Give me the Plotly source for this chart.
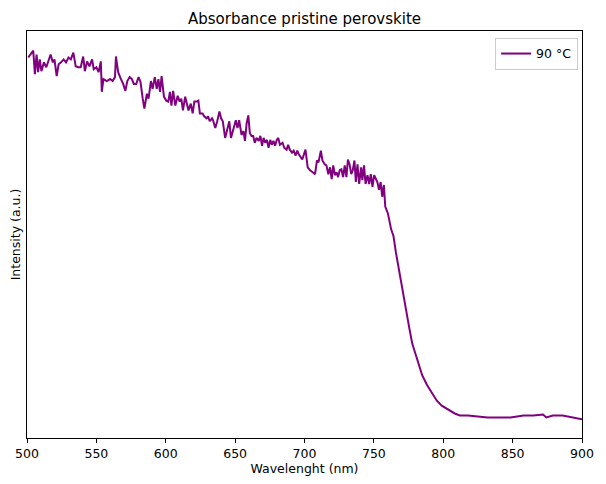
import plotly.graph_objects as go

wavelength_nm = [
    500.9, 504.5, 505.7, 506.9, 508.0, 509.2, 510.4, 512.2, 513.9, 515.1,
    517.0, 518.6, 519.8, 521.4, 522.8, 524.5, 526.4, 528.1, 529.9, 531.6,
    533.4, 535.1, 537.0, 538.7, 540.5, 541.7, 543.3, 545.0, 546.9, 548.1,
    550.0, 551.6, 553.2, 553.9, 555.1, 557.5, 559.9, 561.7, 563.4, 564.1,
    565.7, 567.4, 569.3, 570.9, 572.3, 574.0, 575.6, 577.0, 578.7, 580.4,
    581.8, 583.4, 584.6, 586.4, 587.6, 589.3, 590.5, 592.1, 593.5, 594.7,
    595.9, 597.0, 598.7, 600.4, 601.8, 603.0, 604.1, 605.3, 606.9, 608.6,
    610.0, 611.2, 612.4, 614.0, 615.2, 616.4, 618.0, 619.4, 620.6, 622.3,
    623.5, 624.6, 626.5, 627.7, 629.3, 630.5, 631.7, 633.4, 634.1, 635.7,
    637.1, 638.7, 639.9, 641.1, 642.8, 644.2, 645.8, 647.0, 648.9, 650.5,
    651.7, 652.9, 654.6, 656.0, 657.1, 658.3, 659.5, 660.6, 661.8, 663.0,
    664.2, 665.4, 667.0, 668.2, 669.4, 670.5, 671.7, 672.9, 674.1, 675.3,
    676.5, 677.6, 678.8, 680.0, 681.1, 682.3, 684.2, 685.4, 687.1, 688.2,
    689.4, 691.0, 692.2, 693.6, 694.8, 696.0, 698.4, 700.7, 702.3, 704.0,
    705.9, 707.6, 709.0, 710.1, 711.8, 712.9, 714.6, 715.8, 717.2, 718.4,
    719.6, 720.7, 721.9, 723.1, 724.2, 725.4, 726.6, 727.8, 729.0, 730.2,
    731.3, 732.5, 733.7, 734.8, 736.0, 737.0, 738.2, 739.4, 740.8, 741.7,
    742.9, 744.0, 745.4, 746.6, 747.8, 749.0, 750.2, 751.4, 752.5, 753.7,
    754.9, 756.0, 757.2, 758.2, 760.1, 762.4, 764.1, 765.9, 768.3, 770.7,
    773.0, 775.4, 777.7, 781.3, 784.8, 788.3, 791.9, 795.4, 798.9, 803.7,
    808.3, 811.9, 817.8, 824.9, 831.9, 839.0, 848.4, 853.2, 857.8, 864.9,
    871.9, 874.3, 879.0, 886.1, 893.1, 900.0,
]

intensity_au = [
    3.88, 3.95, 3.71, 3.91, 3.73, 3.86, 3.74, 3.83, 3.78, 3.84,
    3.91, 3.83, 3.86, 3.69, 3.81, 3.83, 3.86, 3.83, 3.88, 3.86,
    3.93, 3.79, 3.78, 3.78, 3.89, 3.74, 3.84, 3.79, 3.86, 3.76,
    3.78, 3.73, 3.84, 3.53, 3.66, 3.64, 3.66, 3.64, 3.68, 3.89,
    3.73, 3.67, 3.61, 3.54, 3.64, 3.68, 3.66, 3.61, 3.61, 3.68,
    3.63, 3.46, 3.36, 3.51, 3.46, 3.64, 3.56, 3.68, 3.56, 3.66,
    3.53, 3.69, 3.48, 3.44, 3.43, 3.53, 3.39, 3.54, 3.39, 3.49,
    3.43, 3.46, 3.34, 3.48, 3.39, 3.34, 3.41, 3.31, 3.43, 3.43,
    3.44, 3.31, 3.31, 3.28, 3.26, 3.28, 3.23, 3.26, 3.24, 3.16,
    3.23, 3.33, 3.26, 3.23, 3.06, 3.13, 3.23, 3.06, 3.16, 3.24,
    3.16, 3.24, 3.09, 3.13, 3.03, 3.21, 3.29, 3.11, 3.08, 3.08,
    3.01, 3.06, 3.03, 3.08, 2.98, 3.06, 3.01, 3.04, 2.96, 3.04,
    2.99, 3.03, 2.98, 3.04, 3.06, 2.99, 3.01, 2.96, 2.94, 2.99,
    2.94, 2.91, 2.93, 2.88, 2.93, 2.89, 2.84, 2.94, 2.76, 2.73,
    2.71, 2.69, 2.83, 2.81, 2.93, 2.83, 2.79, 2.78, 2.69, 2.76,
    2.64, 2.78, 2.68, 2.71, 2.66, 2.73, 2.74, 2.66, 2.78, 2.66,
    2.84, 2.79, 2.69, 2.73, 2.83, 2.61, 2.79, 2.59, 2.76, 2.63,
    2.78, 2.59, 2.68, 2.59, 2.69, 2.56, 2.68, 2.64, 2.61, 2.53,
    2.61, 2.46, 2.58, 2.36, 2.29, 2.13, 2.06, 1.89, 1.69, 1.49,
    1.29, 1.13, 0.96, 0.79, 0.64, 0.54, 0.46, 0.38, 0.33, 0.29,
    0.25, 0.23, 0.23, 0.22, 0.21, 0.21, 0.21, 0.22, 0.23, 0.23,
    0.24, 0.21, 0.23, 0.23, 0.21, 0.19,
]

series_name = "90 °C"
x_ticks = [500, 550, 600, 650, 700, 750, 800, 850, 900]

FONT = "DejaVu Sans"

fig = go.Figure()
fig.add_trace(go.Scatter(
    x=wavelength_nm, y=intensity_au, mode="lines", name=series_name,
    line=dict(color="#800080", width=2),
))

fig.update_layout(
    width=606, height=484,
    margin=dict(l=27, r=13, t=31, b=38),
    paper_bgcolor="white", plot_bgcolor="white",
    font=dict(family=FONT, size=12.5, color="black"),
    title=dict(text="Absorbance pristine perovskite", x=0.5, xanchor="center",
               xref="paper",
               y=1 - 19 / 484, yanchor="middle", yref="container",
               font=dict(family=FONT, size=15, color="black")),
    showlegend=True,
    legend=dict(x=0.993, y=0.983, xanchor="right", yanchor="top",
                bgcolor="white", bordercolor="#cccccc", borderwidth=1,
                font=dict(family=FONT, size=12.5, color="black")),
    xaxis=dict(range=[500, 900], tickvals=x_ticks, ticks="outside", ticklen=4,
               tickcolor="black", showline=True, linecolor="black", linewidth=1,
               mirror=True, showgrid=False, zeroline=False,
               tickfont=dict(family=FONT, size=12.5),
               title=dict(text="Wavelenght (nm)", standoff=2,
                          font=dict(family=FONT, size=12.5))),
    yaxis=dict(range=[0, 4.15], showticklabels=False, ticks="",
               showline=True, linecolor="black", linewidth=1, mirror=True,
               showgrid=False, zeroline=False,
               title=dict(text="Intensity (a.u.)", standoff=2,
                          font=dict(family=FONT, size=12.5))),
)

fig.write_html("out.html")
